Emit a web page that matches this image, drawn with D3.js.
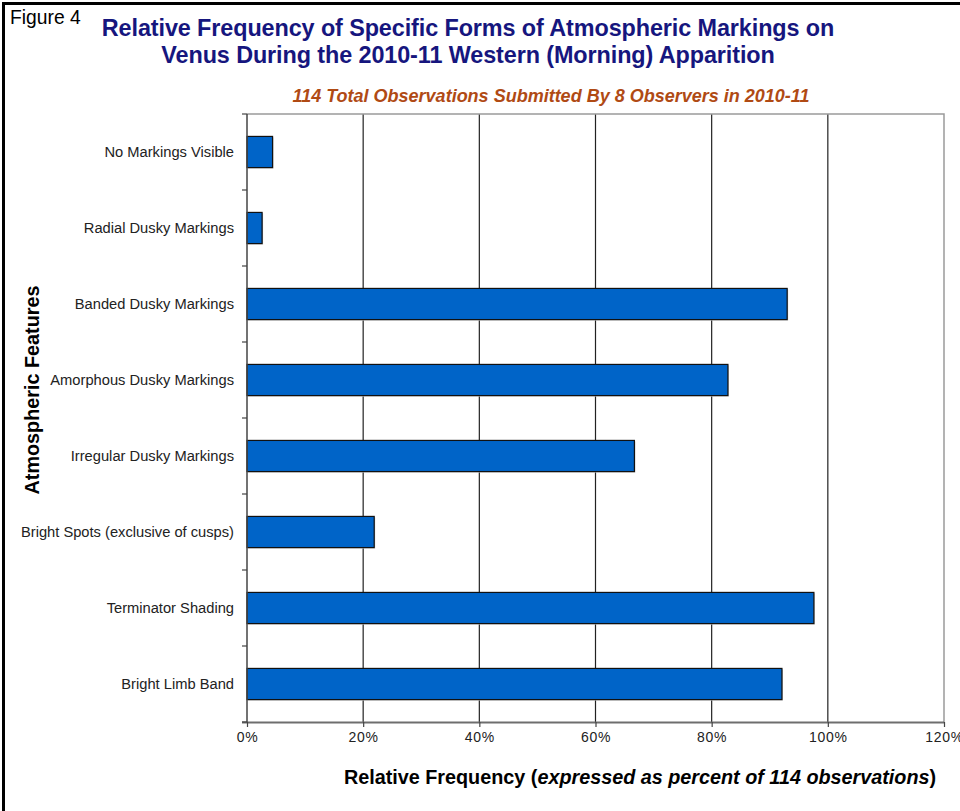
<!DOCTYPE html>
<html>
<head>
<meta charset="utf-8">
<script src="https://cdn.jsdelivr.net/npm/d3@7"></script>
<style>
  html, body { margin: 0; padding: 0; background: #fff; }
  svg { display: block; font-family: "Liberation Sans", Arial, sans-serif; }
</style>
</head>
<body>
<svg id="chart" width="960" height="811"></svg>
<script>
// Atmospheric feature categories, top to bottom
const categories = [
  "No Markings Visible",
  "Radial Dusky Markings",
  "Banded Dusky Markings",
  "Amorphous Dusky Markings",
  "Irregular Dusky Markings",
  "Bright Spots (exclusive of cusps)",
  "Terminator Shading",
  "Bright Limb Band"
];
// Relative frequency, percent of 114 observations
const frequencies = [4.4, 2.6, 93.0, 82.8, 66.7, 21.9, 97.6, 92.1];
// X axis tick values (percent)
const xTicks = [0, 20, 40, 60, 80, 100, 120];

(function () {
const svg = d3.select("#chart");

// Frame lines (left and top)
svg.append("line").attr("x1", 4).attr("y1", 3.5).attr("x2", 960).attr("y2", 3.5)
  .attr("stroke", "#000").attr("stroke-width", 3);
svg.append("line").attr("x1", 3.5).attr("y1", 2).attr("x2", 3.5).attr("y2", 811)
  .attr("stroke", "#000").attr("stroke-width", 3);

// "Figure 4" label
svg.append("text").attr("x", 10).attr("y", 24)
  .attr("font-size", 19.3).attr("fill", "#000").text("Figure 4");

// Titles
const titleColor = "#16167e";
svg.append("text").attr("x", 468).attr("y", 36).attr("text-anchor", "middle")
  .attr("font-size", 23.4).attr("font-weight", "bold").attr("fill", titleColor)
  .attr("letter-spacing", "-0.1px")
  .text("Relative Frequency of Specific Forms of Atmospheric Markings on");
svg.append("text").attr("x", 468).attr("y", 63).attr("text-anchor", "middle")
  .attr("font-size", 23.4).attr("font-weight", "bold").attr("fill", titleColor)
  .attr("letter-spacing", "-0.1px")
  .text("Venus During the 2010-11 Western (Morning) Apparition");
svg.append("text").attr("x", 551).attr("y", 102).attr("text-anchor", "middle")
  .attr("font-size", 18).attr("font-weight", "bold").attr("font-style", "italic")
  .attr("fill", "#b04a14")
  .text("114 Total Observations Submitted By 8 Observers in 2010-11");

// Plot geometry
const pLeft = 247, pRight = 944, pTop = 114, pBottom = 722;

const x = d3.scaleLinear().domain([0, 120]).range([pLeft, pRight]);
const y = d3.scaleBand().domain(categories).range([pTop, pBottom])
  .paddingInner(0.59).paddingOuter(0.295);
const band = d3.scaleBand().domain(categories).range([pTop, pBottom]);

// Vertical gridlines
svg.append("g").selectAll("line")
  .data(xTicks.filter(t => t > 0 && t < 120))
  .join("line")
  .attr("x1", d => x(d)).attr("x2", d => x(d))
  .attr("y1", pTop).attr("y2", pBottom)
  .attr("stroke", "#222").attr("stroke-width", 1.2);

// Plot border (top and right)
svg.append("path")
  .attr("d", `M${pLeft},${pTop}H${pRight}V${pBottom}`)
  .attr("fill", "none").attr("stroke", "#9a9a9a").attr("stroke-width", 1.5);

// Bars with a faint shadow
const bars = svg.append("g");
bars.selectAll("rect.shadow")
  .data(categories)
  .join("rect")
  .attr("class", "shadow")
  .attr("x", pLeft + 1)
  .attr("y", d => y(d) + 1)
  .attr("width", (d, i) => x(frequencies[i]) - pLeft)
  .attr("height", y.bandwidth())
  .attr("fill", "#c8c8c8");
bars.selectAll("rect.bar")
  .data(categories)
  .join("rect")
  .attr("class", "bar")
  .attr("x", pLeft)
  .attr("y", d => y(d))
  .attr("width", (d, i) => x(frequencies[i]) - pLeft)
  .attr("height", y.bandwidth())
  .attr("fill", "#0064c8")
  .attr("stroke", "#111").attr("stroke-width", 1.2);

// X axis
const xAxis = svg.append("g").attr("transform", `translate(0,${pBottom})`)
  .call(d3.axisBottom(x).tickValues(xTicks).tickFormat(d => d + "%")
    .tickSize(5).tickSizeOuter(0));
xAxis.select(".domain").attr("stroke", "#6e6e6e").attr("stroke-width", 2)
  .attr("d", `M${pLeft - 5},0.5H${pRight}`);
xAxis.selectAll(".tick line").attr("stroke", "#444").attr("stroke-width", 1.2);
xAxis.selectAll(".tick text")
  .attr("font-family", "Liberation Sans, Arial, sans-serif")
  .attr("font-size", 14).attr("fill", "#222").attr("dy", "0.85em")
  .attr("letter-spacing", "0.7px");

// Y axis: ticks at category boundaries
const yAxisG = svg.append("g").attr("transform", `translate(${pLeft},0)`);
yAxisG.append("line").attr("x1", 0).attr("x2", 0).attr("y1", pTop).attr("y2", pBottom)
  .attr("stroke", "#444").attr("stroke-width", 1.5);
const boundaries = categories.map(c => band(c)).concat([pBottom]);
yAxisG.selectAll("line.tk").data(boundaries).join("line").attr("class", "tk")
  .attr("x1", -5).attr("x2", 0).attr("y1", d => d).attr("y2", d => d)
  .attr("stroke", "#444").attr("stroke-width", 1.2);
yAxisG.selectAll("text").data(categories).join("text")
  .attr("x", -13).attr("y", d => y(d) + y.bandwidth() / 2)
  .attr("dy", "0.35em").attr("text-anchor", "end")
  .attr("font-size", 14.7).attr("fill", "#222")
  .text(d => d);

// Axis titles
svg.append("text")
  .attr("transform", "translate(39,390) rotate(-90)")
  .attr("text-anchor", "middle").attr("font-size", 19.8).attr("font-weight", "bold")
  .attr("fill", "#000").text("Atmospheric Features");

const xt = svg.append("text").attr("x", 640).attr("y", 784)
  .attr("text-anchor", "middle").attr("font-size", 19.8).attr("font-weight", "bold")
  .attr("fill", "#000");
xt.append("tspan").text("Relative Frequency (");
xt.append("tspan").attr("font-style", "italic").text("expressed as percent of 114 observations");
xt.append("tspan").text(")");
})();
</script>
</body>
</html>
